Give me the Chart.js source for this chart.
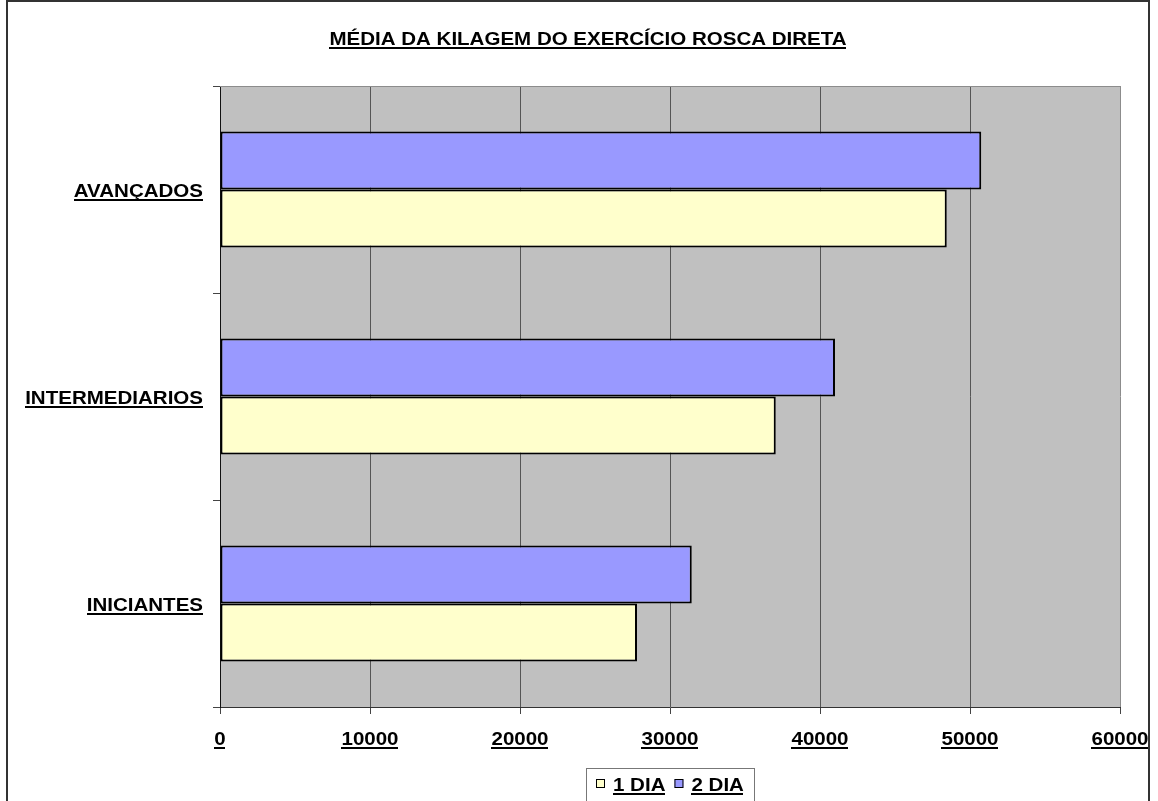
<!DOCTYPE html>
<html>
<head>
<meta charset="utf-8">
<title>Média da kilagem</title>
<script src="https://cdn.jsdelivr.net/npm/chart.js@4/dist/chart.umd.min.js"></script>
<style>
    html, body { margin: 0; padding: 0; background: #fff; }
    #wrap { position: relative; width: 1158px; height: 801px; }
</style>
</head>
<body>
<div id="wrap"><canvas id="rosca"></canvas></div>
<script>
// Data
const categories = ['AVANÇADOS', 'INTERMEDIARIOS', 'INICIANTES'];
const dia1 = [48450, 37050, 27800];
const dia2 = [50750, 41000, 31450];
const seriesNames = ['1 DIA', '2 DIA'];
const X_MIN = 0;
const X_MAX = 60000;
const X_STEP = 10000;
const TITLE = 'MÉDIA DA KILAGEM DO EXERCÍCIO ROSCA DIRETA';

const COLORS = {
    dia1: '#FFFFCC',
    dia2: '#9999FF',
    plot: '#C0C0C0',
    grid: '#555555',
    edge: '#8C8C8C'
};

const FONT = 'bold 19px "Liberation Sans", Arial, sans-serif';
const STRETCH = 1.08;

/**
 * Bold, slightly widened, underlined text
 */
function drawLabel(ctx, text, x, y, align) {
    ctx.save();
    ctx.font = FONT;
    const w = ctx.measureText(text).width * STRETCH;
    let left = x;
    if (align === 'center') left = x - w / 2;
    if (align === 'right') left = x - w;
    ctx.fillStyle = '#000';
    ctx.textAlign = 'left';
    ctx.textBaseline = 'alphabetic';
    ctx.translate(left, y);
    ctx.scale(STRETCH, 1);
    ctx.fillText(text, 0, 0);
    ctx.restore();
    ctx.fillStyle = '#000';
    ctx.fillRect(Math.round(left), y + 2, Math.round(w), 2);
    return w;
}

function textWidth(ctx, text) {
    ctx.save();
    ctx.font = FONT;
    const w = ctx.measureText(text).width * STRETCH;
    ctx.restore();
    return w;
}

const decorPlugin = {
    id: 'decor',
    beforeDraw(chart) {
        const { ctx, chartArea: a } = chart;
        ctx.save();
        ctx.fillStyle = '#fff';
        ctx.fillRect(0, 0, chart.width, chart.height);
        // outer frame
        ctx.strokeStyle = '#333';
        ctx.lineWidth = 2;
        ctx.strokeRect(7, 1, 1142, 820);
        // plot background
        ctx.fillStyle = COLORS.plot;
        ctx.fillRect(a.left, a.top, a.right - a.left, a.bottom - a.top);
        ctx.restore();
    },
    beforeDatasetsDraw(chart) {
        const { ctx, chartArea: a } = chart;
        ctx.save();
        ctx.strokeStyle = COLORS.edge;
        ctx.lineWidth = 1;
        ctx.beginPath();
        ctx.moveTo(a.left, Math.floor(a.top) + 0.5);
        ctx.lineTo(a.right, Math.floor(a.top) + 0.5);
        ctx.stroke();
        ctx.restore();
    },
    afterDraw(chart) {
        const { ctx, chartArea: a } = chart;
        const xs = chart.scales.x;
        const ys = chart.scales.y;

        // title
        drawLabel(ctx, TITLE, 588, 45, 'center');

        // value axis labels
        xs.ticks.forEach((t, i) => {
            drawLabel(ctx, String(t.value), xs.getPixelForTick(i), 745, 'center');
        });

        // category labels
        chart.data.labels.forEach((lab, i) => {
            drawLabel(ctx, lab, 203, Math.round(ys.getPixelForTick(i)) + 7, 'right');
        });

        // legend, 1 DIA first
        const items = chart.data.datasets.slice().reverse();
        const sw = 9, gapText = 8, gapItem = 9;
        let total = 0;
        items.forEach((d, i) => {
            total += sw + gapText + textWidth(ctx, d.label) + (i < items.length - 1 ? gapItem : 0);
        });
        const cx = (a.left + a.right) / 2;
        let x = Math.round(cx - total / 2);
        ctx.save();
        ctx.strokeStyle = '#777';
        ctx.lineWidth = 1;
        ctx.strokeRect(Math.round(cx - 84) + 0.5, 768.5, 168, 40);
        ctx.restore();
        items.forEach(d => {
            ctx.save();
            ctx.fillStyle = d.backgroundColor;
            ctx.fillRect(x, 779, sw, sw);
            ctx.strokeStyle = '#000';
            ctx.lineWidth = 1;
            ctx.strokeRect(x + 0.5, 779.5, sw - 1, sw - 1);
            ctx.restore();
            x += sw + gapText;
            x += drawLabel(ctx, d.label, x, 791, 'left') + gapItem;
        });
    }
};

const chart = new Chart(document.getElementById('rosca'), {
    type: 'bar',
    data: {
        labels: categories,
        datasets: [
            {
                label: seriesNames[1],
                data: dia2,
                backgroundColor: COLORS.dia2,
                borderColor: '#000',
                borderWidth: 2,
                borderSkipped: false
            },
            {
                label: seriesNames[0],
                data: dia1,
                backgroundColor: COLORS.dia1,
                borderColor: '#000',
                borderWidth: 2,
                borderSkipped: false
            }
        ]
    },
    options: {
        indexAxis: 'y',
        responsive: true,
        maintainAspectRatio: false,
        animation: false,
        events: [],
        categoryPercentage: 0.56,
        barPercentage: 1.0,
        layout: {
            padding: { left: 213, right: 38, top: 86, bottom: 87 }
        },
        plugins: {
            legend: { display: false },
            title: { display: false },
            tooltip: { enabled: false }
        },
        scales: {
            x: {
                min: X_MIN,
                max: X_MAX,
                ticks: { stepSize: X_STEP, display: false },
                grid: {
                    color: ctx => (ctx.tick && ctx.tick.value === X_MAX) ? COLORS.edge : COLORS.grid,
                    lineWidth: 1,
                    drawTicks: true,
                    tickLength: 7,
                    tickColor: '#444'
                },
                border: { display: true, color: '#333', width: 1 }
            },
            y: {
                ticks: { display: false },
                grid: {
                    drawOnChartArea: false,
                    drawTicks: true,
                    tickLength: 7,
                    tickColor: '#444',
                    offset: true
                },
                border: { display: true, color: '#111', width: 1 }
            }
        }
    },
    plugins: [decorPlugin]
});
</script>
</body>
</html>
